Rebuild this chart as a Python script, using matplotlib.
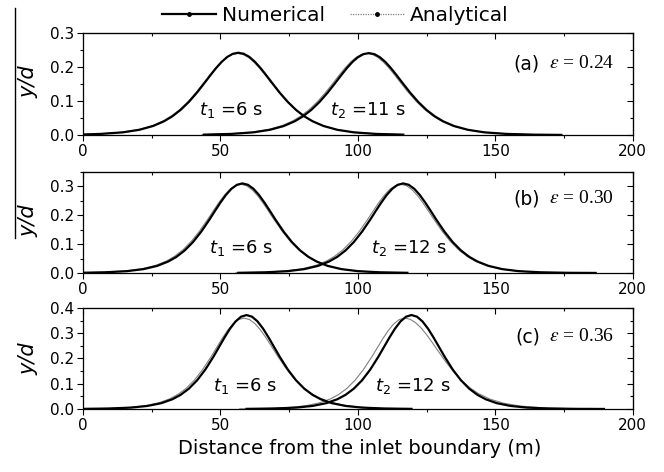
import matplotlib
matplotlib.use('Agg')
import matplotlib.pyplot as plt
from matplotlib.lines import Line2D
from matplotlib.ticker import MultipleLocator, FormatStrFormatter

# ---------------- data ----------------
# panel (a)  epsilon = 0.24
xa1_num = [0, 6.5, 14.5, 20.5, 25.5, 29.5, 32.5, 35.5, 38.5, 41.5, 44.5, 46.5, 48.5, 50.5, 52.5, 54.5,
           56.5, 58.5, 60.5, 62.5, 64.5, 66.5, 68.5, 71.5, 74.5, 77.5, 80.5, 83.5, 87.5, 92.5, 98.5,
           106.5, 116.5]
num_a1 = [0.0015, 0.0032, 0.0078, 0.0153, 0.0265, 0.0405, 0.0550, 0.0738, 0.0973, 0.1252, 0.1563,
          0.1775, 0.1977, 0.2156, 0.2298, 0.2389, 0.242, 0.2389, 0.2298, 0.2156, 0.1977, 0.1775,
          0.1563, 0.1252, 0.0973, 0.0738, 0.0550, 0.0405, 0.0265, 0.0153, 0.0078, 0.0032, 0.0010]
xa1_ana = [0, 6.2, 14.2, 20.2, 25.2, 29.2, 32.2, 35.2, 38.2, 41.2, 44.2, 46.2, 48.2, 50.2, 52.2, 54.2,
           56.2, 58.2, 60.2, 62.2, 64.2, 66.2, 68.2, 71.2, 74.2, 77.2, 80.2, 83.2, 87.2, 92.2, 98.2,
           106.2, 116.2]
ana_a1 = [0.0016, 0.0034, 0.0082, 0.0159, 0.0272, 0.0414, 0.0561, 0.0749, 0.0982, 0.1258, 0.1564,
          0.1772, 0.1969, 0.2144, 0.2281, 0.2370, 0.240, 0.2370, 0.2281, 0.2144, 0.1969, 0.1772,
          0.1564, 0.1258, 0.0982, 0.0749, 0.0561, 0.0414, 0.0272, 0.0159, 0.0082, 0.0034, 0.0011]
xa2_num = [44, 54, 62, 68, 73, 77, 80, 83, 86, 89, 92, 94, 96, 98, 100, 102, 104, 106, 108, 110, 112,
           114, 116, 119, 122, 125, 128, 131, 135, 140, 146, 154, 164, 174]
num_a2 = [0.0010, 0.0032, 0.0078, 0.0153, 0.0263, 0.0403, 0.0548, 0.0735, 0.0969, 0.1247, 0.1556,
          0.1767, 0.1969, 0.2148, 0.2288, 0.2379, 0.241, 0.2379, 0.2288, 0.2148, 0.1969, 0.1767,
          0.1556, 0.1247, 0.0969, 0.0735, 0.0548, 0.0403, 0.0263, 0.0153, 0.0078, 0.0032, 0.0010,
          0.0003]
xa2_ana = [43.3, 53.3, 61.3, 67.3, 72.3, 76.3, 79.3, 82.3, 85.3, 88.3, 91.3, 93.3, 95.3, 97.3, 99.3,
           101.3, 103.3, 105.3, 107.3, 109.3, 111.3, 113.3, 115.3, 118.3, 121.3, 124.3, 127.3, 130.3,
           134.3, 139.3, 145.3, 153.3, 163.3, 173.3]
ana_a2 = [0.0011, 0.0034, 0.0082, 0.0159, 0.0272, 0.0414, 0.0561, 0.0749, 0.0982, 0.1258, 0.1564,
          0.1772, 0.1969, 0.2144, 0.2281, 0.2370, 0.240, 0.2370, 0.2281, 0.2144, 0.1969, 0.1772,
          0.1564, 0.1258, 0.0982, 0.0749, 0.0561, 0.0414, 0.0272, 0.0159, 0.0082, 0.0034, 0.0011,
          0.0004]

# panel (b)  epsilon = 0.30
xb1_num = [0, 8, 16, 22, 27, 31, 34, 37, 40, 43, 46, 48, 50, 52, 54, 56, 58, 60, 62, 64, 66, 68, 70,
           73, 76, 79, 82, 85, 89, 94, 100, 108, 118]
num_b1 = [0.0009, 0.0024, 0.0064, 0.0134, 0.0246, 0.0396, 0.0558, 0.0778, 0.1066, 0.1425, 0.1843,
          0.2140, 0.2430, 0.2693, 0.2905, 0.3042, 0.309, 0.3042, 0.2905, 0.2693, 0.2430, 0.2140,
          0.1843, 0.1425, 0.1066, 0.0778, 0.0558, 0.0396, 0.0246, 0.0134, 0.0064, 0.0024, 0.0007]
xb1_ana = [0, 7.4, 15.4, 21.4, 26.4, 30.4, 33.4, 36.4, 39.4, 42.4, 45.4, 47.4, 49.4, 51.4, 53.4, 55.4,
           57.4, 59.4, 61.4, 63.4, 65.4, 67.4, 69.4, 72.4, 75.4, 78.4, 81.4, 84.4, 88.4, 93.4, 99.4,
           107.4, 117.4]
ana_b1 = [0.0011, 0.0026, 0.0070, 0.0144, 0.0261, 0.0415, 0.0581, 0.0804, 0.1092, 0.1447, 0.1857,
          0.2146, 0.2427, 0.2680, 0.2883, 0.3014, 0.306, 0.3014, 0.2883, 0.2680, 0.2427, 0.2146,
          0.1857, 0.1447, 0.1092, 0.0804, 0.0581, 0.0415, 0.0261, 0.0144, 0.0070, 0.0026, 0.0008]
xb2_num = [56.5, 66.5, 74.5, 80.5, 85.5, 89.5, 92.5, 95.5, 98.5, 101.5, 104.5, 106.5, 108.5, 110.5,
           112.5, 114.5, 116.5, 118.5, 120.5, 122.5, 124.5, 126.5, 128.5, 131.5, 134.5, 137.5, 140.5,
           143.5, 147.5, 152.5, 158.5, 166.5, 176.5, 186.5]
num_b2 = [0.0007, 0.0024, 0.0064, 0.0134, 0.0246, 0.0396, 0.0558, 0.0778, 0.1066, 0.1425, 0.1843,
          0.2140, 0.2430, 0.2693, 0.2905, 0.3042, 0.309, 0.3042, 0.2905, 0.2693, 0.2430, 0.2140,
          0.1843, 0.1425, 0.1066, 0.0778, 0.0558, 0.0396, 0.0246, 0.0134, 0.0064, 0.0024, 0.0007,
          0.0002]
xb2_ana = [55.6, 65.6, 73.6, 79.6, 84.6, 88.6, 91.6, 94.6, 97.6, 100.6, 103.6, 105.6, 107.6, 109.6,
           111.6, 113.6, 115.6, 117.6, 119.6, 121.6, 123.6, 125.6, 127.6, 130.6, 133.6, 136.6, 139.6,
           142.6, 146.6, 151.6, 157.6, 165.6, 175.6, 185.6]
ana_b2 = [0.0008, 0.0026, 0.0070, 0.0144, 0.0261, 0.0415, 0.0581, 0.0804, 0.1092, 0.1447, 0.1857,
          0.2146, 0.2427, 0.2680, 0.2883, 0.3014, 0.306, 0.3014, 0.2883, 0.2680, 0.2427, 0.2146,
          0.1857, 0.1447, 0.1092, 0.0804, 0.0581, 0.0415, 0.0261, 0.0144, 0.0070, 0.0026, 0.0008,
          0.0002]

# panel (c)  epsilon = 0.36
xc1_num = [0, 9.5, 17.5, 23.5, 28.5, 32.5, 35.5, 38.5, 41.5, 44.5, 47.5, 49.5, 51.5, 53.5, 55.5, 57.5,
           59.5, 61.5, 63.5, 65.5, 67.5, 69.5, 71.5, 74.5, 77.5, 80.5, 83.5, 86.5, 90.5, 95.5, 101.5,
           109.5, 119.5]
num_c1 = [0.0005, 0.0019, 0.0055, 0.0121, 0.0231, 0.0385, 0.0560, 0.0804, 0.1135, 0.1562, 0.2080,
          0.2457, 0.2834, 0.3183, 0.3467, 0.3655, 0.372, 0.3655, 0.3467, 0.3183, 0.2834, 0.2457,
          0.2080, 0.1562, 0.1135, 0.0804, 0.0560, 0.0385, 0.0231, 0.0121, 0.0055, 0.0019, 0.0005]
xc1_ana = [0, 8.5, 16.5, 22.5, 27.5, 31.5, 34.5, 37.5, 40.5, 43.5, 46.5, 48.5, 50.5, 52.5, 54.5, 56.5,
           58.5, 60.5, 62.5, 64.5, 66.5, 68.5, 70.5, 73.5, 76.5, 79.5, 82.5, 85.5, 89.5, 94.5, 100.5,
           108.5, 118.5]
ana_c1 = [0.0007, 0.0021, 0.0059, 0.0128, 0.0242, 0.0399, 0.0574, 0.0817, 0.1142, 0.1557, 0.2055,
          0.2413, 0.2771, 0.3099, 0.3365, 0.3539, 0.360, 0.3544, 0.3384, 0.3138, 0.2831, 0.2493,
          0.2148, 0.1660, 0.1242, 0.0907, 0.0651, 0.0461, 0.0287, 0.0157, 0.0075, 0.0028, 0.0008]
xc2_num = [59.5, 69.5, 77.5, 83.5, 88.5, 92.5, 95.5, 98.5, 101.5, 104.5, 107.5, 109.5, 111.5, 113.5,
           115.5, 117.5, 119.5, 121.5, 123.5, 125.5, 127.5, 129.5, 131.5, 134.5, 137.5, 140.5, 143.5,
           146.5, 150.5, 155.5, 161.5, 169.5, 179.5, 189.5]
num_c2 = [0.0005, 0.0019, 0.0055, 0.0121, 0.0231, 0.0385, 0.0560, 0.0804, 0.1135, 0.1562, 0.2080,
          0.2457, 0.2834, 0.3183, 0.3467, 0.3655, 0.372, 0.3655, 0.3467, 0.3183, 0.2834, 0.2457,
          0.2080, 0.1562, 0.1135, 0.0804, 0.0560, 0.0385, 0.0231, 0.0121, 0.0055, 0.0019, 0.0005,
          0.0001]
xc2_ana = [57, 67, 75, 81, 86, 90, 93, 96, 99, 102, 105, 107, 109, 111, 113, 115, 117, 119, 121, 123,
           125, 127, 129, 132, 135, 138, 141, 144, 148, 153, 159, 167, 177, 187]
ana_c2 = [0.0006, 0.0021, 0.0059, 0.0128, 0.0242, 0.0399, 0.0574, 0.0817, 0.1142, 0.1557, 0.2055,
          0.2413, 0.2771, 0.3099, 0.3365, 0.3539, 0.360, 0.3553, 0.3418, 0.3208, 0.2941, 0.2640,
          0.2325, 0.1862, 0.1447, 0.1098, 0.0818, 0.0602, 0.0393, 0.0228, 0.0117, 0.0047, 0.0015,
          0.0005]

panel_tags = ['(a)', '(b)', '(c)']
eps_labels = ['0.24', '0.30', '0.36']
ymaxes = [0.3, 0.35, 0.4]
t1_labels = ['=6 s', '=6 s', '=6 s']
t2_labels = ['=11 s', '=12 s', '=12 s']
xtick_labels = ['0', '50', '100', '150', '200']
legend_labels = ['Numerical', 'Analytical']
xlabel = 'Distance from the inlet boundary (m)'

# ---------------- figure ----------------
plt.rcParams['font.family'] = ['DejaVu Sans']
plt.rcParams['mathtext.fontset'] = 'dejavusans'

fig = plt.figure(figsize=(6.64, 4.72), dpi=100)
rects = [(0.125, 0.714, 0.828, 0.216),
         (0.125, 0.4216, 0.828, 0.215),
         (0.125, 0.1335, 0.828, 0.214)]

data = [((xa1_num, num_a1), (xa1_ana, ana_a1), (xa2_num, num_a2), (xa2_ana, ana_a2)),
        ((xb1_num, num_b1), (xb1_ana, ana_b1), (xb2_num, num_b2), (xb2_ana, ana_b2)),
        ((xc1_num, num_c1), (xc1_ana, ana_c1), (xc2_num, num_c2), (xc2_ana, ana_c2))]

t1_pos = [(54, 0.073), (57.4, 0.086), (59, 0.091)]
t2_pos = [(103.7, 0.073), (118.5, 0.086), (120, 0.091)]
tag_y = [0.70, 0.73, 0.713]
ylab_y = [0.52, 0.52, 0.50]

GRAY = '#808080'
for i, rect in enumerate(rects):
    ax = fig.add_axes(rect)
    n1, a1, n2, a2 = data[i]
    ax.plot(a1[0], a1[1], color=GRAY, lw=0.8)
    ax.plot(a2[0], a2[1], color=GRAY, lw=0.8)
    ax.plot(n1[0], n1[1], color='black', lw=1.6, solid_joinstyle='round')
    ax.plot(n2[0], n2[1], color='black', lw=1.6, solid_joinstyle='round')

    ax.set_xlim(0, 200)
    ax.set_ylim(0, ymaxes[i])
    ax.xaxis.set_minor_locator(MultipleLocator(25))
    ax.yaxis.set_major_locator(MultipleLocator(0.1))
    ax.yaxis.set_minor_locator(MultipleLocator(0.05))
    ax.yaxis.set_major_formatter(FormatStrFormatter('%.1f'))
    ax.set_xticks([0, 50, 100, 150, 200])
    ax.set_xticklabels(xtick_labels)
    ax.tick_params(which='major', direction='out', length=4.5, width=0.8, labelsize=11, pad=2)
    ax.tick_params(which='minor', direction='out', length=2.3, width=0.8)
    for sp in ax.spines.values():
        sp.set_linewidth(0.9)

    secx = ax.secondary_xaxis('top')
    secx.xaxis.set_major_locator(MultipleLocator(50))
    secx.xaxis.set_minor_locator(MultipleLocator(25))
    secx.tick_params(which='major', direction='in', length=4.5, width=0.8, labeltop=False)
    secx.tick_params(which='minor', direction='in', length=2.3, width=0.8)
    secy = ax.secondary_yaxis('right')
    secy.yaxis.set_major_locator(MultipleLocator(0.1))
    secy.yaxis.set_minor_locator(MultipleLocator(0.05))
    secy.tick_params(which='major', direction='in', length=4.5, width=0.8, labelright=False)
    secy.tick_params(which='minor', direction='in', length=2.3, width=0.8)

    ax.text(t1_pos[i][0], t1_pos[i][1], r'$t_1$ ' + t1_labels[i], fontsize=13,
            ha='center', va='center')
    ax.text(t2_pos[i][0], t2_pos[i][1], r'$t_2$ ' + t2_labels[i], fontsize=13,
            ha='center', va='center')

    ax.text(0.831, tag_y[i], panel_tags[i], transform=ax.transAxes, fontsize=13.5,
            ha='right', va='center')
    ax.text(0.966, tag_y[i], r'$\varepsilon$ = ' + eps_labels[i], transform=ax.transAxes,
            fontsize=14, ha='right', va='center', family='Liberation Serif',
            math_fontfamily='stix')

    ax.text(-0.1, ylab_y[i], 'y/d', transform=ax.transAxes, rotation=90, fontsize=15,
            style='italic', ha='center', va='center')

fig.text(0.542, 0.049, xlabel, fontsize=14, ha='center', va='center')

# vertical rule at the far left, as in the reference
fig.add_artist(Line2D([0.0226, 0.0226], [0.983, 0.496], color='black', lw=1.0,
                      transform=fig.transFigure))

handles = [Line2D([], [], color='black', lw=1.6, marker='o', markersize=2.5),
           Line2D([], [], color=GRAY, lw=0.9, ls=(0, (1, 1)), marker='o', markersize=2.5,
                  markerfacecolor='black', markeredgecolor='black')]
fig.legend(handles, legend_labels, loc='center', bbox_to_anchor=(0.505, 0.968), ncol=2,
           frameon=False, fontsize=14.5, handlelength=2.7, handletextpad=0.3,
           columnspacing=1.2, numpoints=1, borderpad=0.1)

fig.savefig('out.png', dpi=100)
